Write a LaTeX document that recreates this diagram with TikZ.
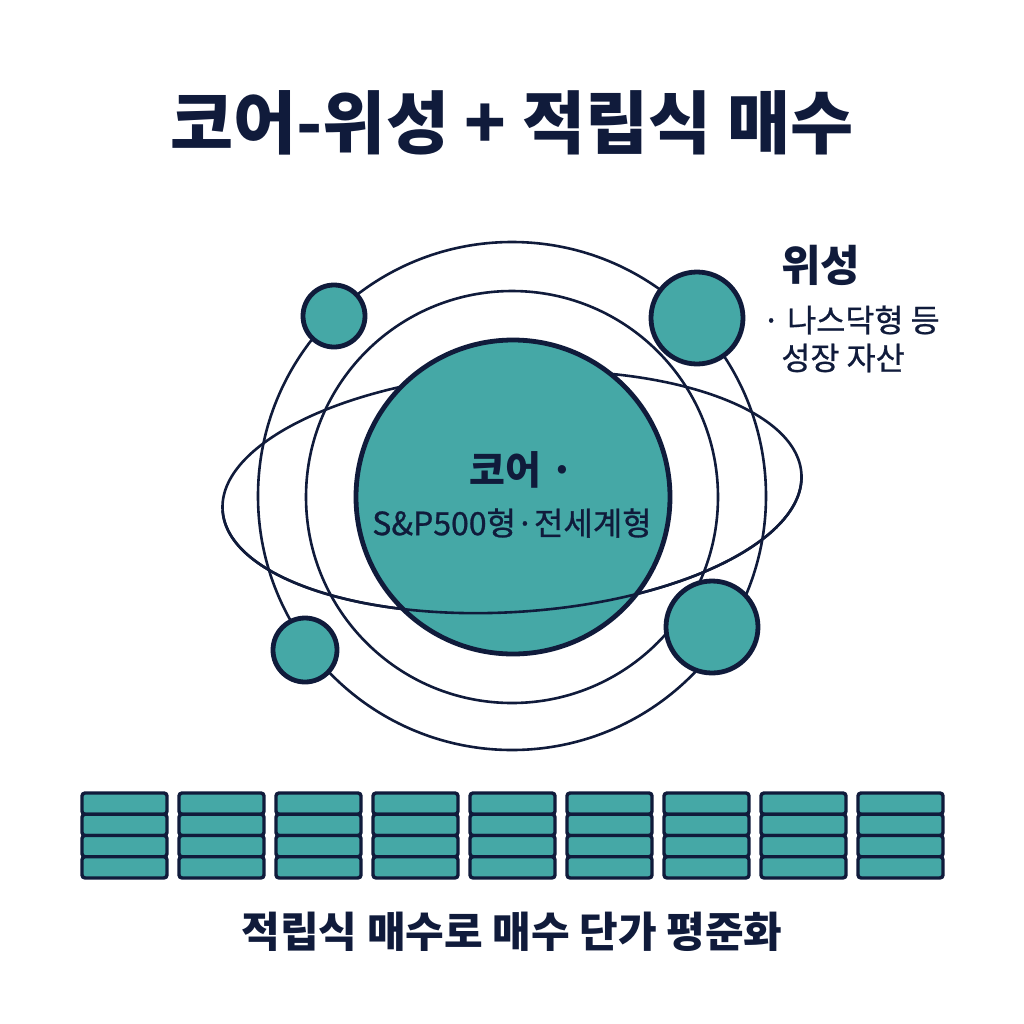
\documentclass[tikz,border=0pt]{standalone}
\usepackage{fontspec}
\setmainfont{Noto Sans CJK KR}
\newfontfamily\medfont{Noto Sans CJK KR}[RawFeature={embolden=0.8}]
\definecolor{navy}{HTML}{101B3B}
\definecolor{teal}{HTML}{45A8A6}
\begin{document}
\begin{tikzpicture}[x=0.5pt,y=-0.5pt,
  orbit/.style={draw=navy,line width=1.3pt},
  sat/.style={circle,draw=navy,fill=teal,line width=2.4pt,inner sep=0pt},
  slab/.style={draw=navy,fill=teal,line width=1.7pt,rounded corners=1.5pt,
    minimum width=42.5pt,minimum height=10.6pt,inner sep=0pt},
  txt/.style={text=navy,inner sep=0pt}]
\useasboundingbox[fill=white] (0,0) rectangle (1024,1024);
% title
\node[txt,font=\bfseries\fontsize{34.3}{40}\selectfont] (title) at (512,123) {코어-위성 + 적립식 매수};
% orbits
\draw[orbit] (512,496) circle [radius=127pt];
\draw[orbit] (512,497) circle [radius=103pt];
\begin{scope}[shift={(512,492)},rotate=3.6]
  \draw[orbit] (0,0) ellipse [x radius=145pt, y radius=60pt];
\end{scope}
% core
\node[sat,minimum size=157pt] (core) at (513,497) {};
\node[txt,font=\bfseries\fontsize{19.5}{22}\selectfont] (coreA) at (522,470) {코어 ·};
\node[txt,font=\medfont\fontsize{16}{19}\selectfont] (coreB) at (512,523) {S\&P500형·전세계형};
% front half of ellipse over the core
\begin{scope}[shift={(512,492)},rotate=3.6]
  \draw[orbit] (0:145pt) arc [start angle=0, end angle=-180, x radius=145pt, y radius=60pt];
\end{scope}
% satellites
\node[sat,minimum size=31pt] (s1) at (334,316) {};
\node[sat,minimum size=46pt] (s2) at (697,318) {};
\node[sat,minimum size=32pt] (s3) at (305,650) {};
\node[sat,minimum size=46pt] (s4) at (712,627) {};
% satellite label
\node[txt,anchor=west,font=\bfseries\fontsize{21.5}{24}\selectfont] (satT) at (781,265) {위성};
\node[txt,anchor=west,font=\medfont\fontsize{15.8}{18}\selectfont] (satA) at (762,320) {· 나스닥형 등};
\node[txt,anchor=west,font=\medfont\fontsize{15.8}{18}\selectfont] (satB) at (781,358) {성장 자산};
% stacks
\foreach \i in {0,...,8}{
  \foreach \j in {0,...,3}{
    \node[slab] (b\i\j) at ({124.5+97*\i},{803.6+21.25*\j}) {};
  }
}
% bottom caption
\node[txt,font=\bfseries\fontsize{21}{24}\selectfont] (cap) at (512,932) {적립식 매수로 매수 단가 평준화};
\end{tikzpicture}
\end{document}
